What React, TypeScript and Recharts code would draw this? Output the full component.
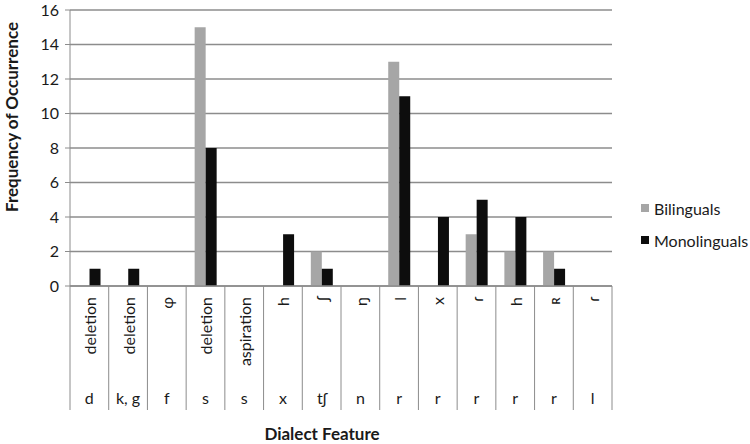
import { Bar, BarChart, CartesianGrid, XAxis, YAxis } from "recharts";

// underlying sound (bottom row) and its dialect realization (rotated top row)
const sounds = ["d", "k, g", "f", "s", "s", "x", "tʃ", "n", "r", "r", "r", "r", "r", "l"];
const realizations = [
  "deletion",
  "deletion",
  "ɸ",
  "deletion",
  "aspiration",
  "h",
  "ʃ",
  "ŋ",
  "l",
  "x",
  "ɾ",
  "h",
  "ʀ",
  "ɾ",
];
const bilinguals = [0, 0, 0, 15, 0, 0, 2, 0, 13, 0, 3, 2, 2, 0];
const monolinguals = [1, 1, 0, 8, 0, 3, 1, 0, 11, 4, 5, 4, 1, 0];
const yTicks = [0, 2, 4, 6, 8, 10, 12, 14, 16];

const FONT = "Lato, 'Liberation Sans', sans-serif";
const GRID = "#8c8c8c";
const GRAY = "#a6a6a6";
const BLACK = "#0d0d0d";
const TEXT = "#1a1a1a";

const PLOT_LEFT = 70;
const PLOT_RIGHT = 612;
const PLOT_BOTTOM = 286;
const HALF_BAND = (PLOT_RIGHT - PLOT_LEFT) / sounds.length / 2;

const data = sounds.map((sound, i) => ({
  id: String(i),
  sound,
  realization: realizations[i],
  Bilinguals: bilinguals[i],
  Monolinguals: monolinguals[i],
}));

const legendItems = [
  { name: "Bilinguals", color: GRAY },
  { name: "Monolinguals", color: BLACK },
];

function FeatureTick(props: any) {
  const { x, payload } = props;
  const i = payload.index;
  const last = i === sounds.length - 1;
  return (
    <g>
      <line x1={x - HALF_BAND} x2={x - HALF_BAND} y1={PLOT_BOTTOM} y2={410} stroke={GRID} />
      {last && (
        <line x1={x + HALF_BAND} x2={x + HALF_BAND} y1={PLOT_BOTTOM} y2={410} stroke={GRID} />
      )}
      <text
        transform={`translate(${x},297) rotate(-90)`}
        textAnchor="end"
        dominantBaseline="central"
        fontSize={16}
        fontFamily={FONT}
        fill={TEXT}
      >
        {realizations[i]}
      </text>
      <text x={x} y={404} textAnchor="middle" fontSize={16} fontFamily={FONT} fill={TEXT}>
        {sounds[i]}
      </text>
    </g>
  );
}

const titleStyle = {
  position: "absolute" as const,
  whiteSpace: "nowrap" as const,
  fontFamily: FONT,
  fontWeight: 700,
  fontSize: 17,
  lineHeight: "18px",
  color: TEXT,
};

export default function App() {
  return (
    <div style={{ position: "absolute", left: 0, top: 0, width: 750, height: 444, background: "#fff" }}>
      <BarChart
        width={750}
        height={444}
        data={data}
        margin={{ top: 10, right: 750 - PLOT_RIGHT, left: 0, bottom: 28 }}
        barGap={0}
        barCategoryGap="22%"
      >
        <CartesianGrid vertical={false} stroke={GRID} strokeWidth={1.3} />
        <XAxis
          dataKey="id"
          height={130}
          interval={0}
          tickLine={false}
          axisLine={{ stroke: GRID, strokeWidth: 1.3 }}
          tick={<FeatureTick />}
        />
        <YAxis
          width={PLOT_LEFT}
          domain={[0, 16]}
          ticks={yTicks}
          interval={0}
          tickSize={5}
          tickMargin={6}
          tickLine={{ stroke: GRID }}
          axisLine={{ stroke: GRID }}
          tick={{ fill: TEXT, fontSize: 16, fontFamily: FONT }}
        />
        <Bar dataKey="Bilinguals" fill={GRAY} isAnimationActive={false} />
        <Bar dataKey="Monolinguals" fill={BLACK} isAnimationActive={false} />
      </BarChart>
      <div style={{ position: "absolute", left: 641, top: 192, fontFamily: FONT, fontSize: 16, color: TEXT }}>
        {legendItems.map((item) => (
          <div key={item.name} style={{ display: "flex", alignItems: "center", height: 32 }}>
            <span
              style={{
                width: 8,
                height: 8,
                background: item.color,
                display: "inline-block",
                marginRight: 5,
              }}
            />
            {item.name}
          </div>
        ))}
      </div>
      <div style={{ ...titleStyle, left: 12, top: 117, transform: "translate(-50%, -50%) rotate(-90deg)" }}>
        Frequency of Occurrence
      </div>
      <div style={{ ...titleStyle, left: 322, top: 434, transform: "translate(-50%, -50%)" }}>
        Dialect Feature
      </div>
    </div>
  );
}
